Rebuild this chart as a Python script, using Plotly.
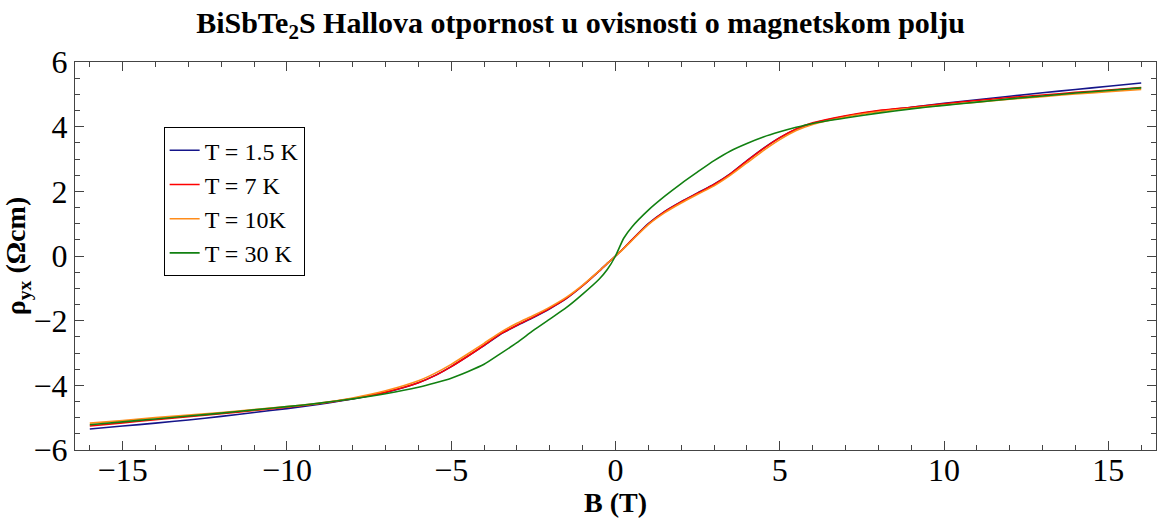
import plotly.graph_objects as go

B = [-16, -15, -14, -13, -12, -11, -10, -9, -8, -7, -6, -5.5, -5, -4.5, -4, -3.5, -3, -2.5, -2, -1.5, -1, -0.5, -0.25,
     0, 0.25, 0.5, 1, 1.5, 2, 2.5, 3, 3.5, 4, 4.5, 5, 5.5, 6, 7, 8, 9, 10, 11, 12, 13, 14, 15, 16]

rho_1p5K = [-5.35, -5.26, -5.17, -5.07, -4.96, -4.84, -4.72, -4.58, -4.42, -4.22, -3.92, -3.70, -3.42, -3.10, -2.77,
            -2.42, -2.15, -1.90, -1.63, -1.32, -0.92, -0.47, -0.23, 0,
            0.24, 0.50, 1.00, 1.38, 1.68, 1.95, 2.22, 2.55, 2.95, 3.33, 3.66, 3.92, 4.10, 4.32, 4.48, 4.60, 4.72,
            4.83, 4.94, 5.05, 5.15, 5.25, 5.35]
rho_7K = [-5.26, -5.16, -5.06, -4.97, -4.88, -4.78, -4.68, -4.56, -4.41, -4.21, -3.92, -3.70, -3.42, -3.10, -2.76,
          -2.41, -2.14, -1.89, -1.62, -1.31, -0.92, -0.47, -0.23, 0,
          0.24, 0.50, 0.99, 1.37, 1.67, 1.94, 2.21, 2.54, 2.94, 3.32, 3.66, 3.93, 4.12, 4.34, 4.50, 4.60, 4.71,
          4.81, 4.90, 4.98, 5.06, 5.13, 5.21]
rho_10K = [-5.17, -5.09, -5.00, -4.92, -4.84, -4.75, -4.66, -4.55, -4.39, -4.17, -3.86, -3.63, -3.35, -3.03, -2.70,
           -2.36, -2.08, -1.84, -1.58, -1.28, -0.90, -0.46, -0.23, 0,
           0.23, 0.48, 0.97, 1.34, 1.64, 1.91, 2.17, 2.50, 2.88, 3.26, 3.60, 3.88, 4.07, 4.30, 4.46, 4.57, 4.67,
           4.76, 4.85, 4.93, 5.01, 5.08, 5.15]
rho_30K = [-5.22, -5.13, -5.04, -4.95, -4.86, -4.76, -4.66, -4.55, -4.42, -4.26, -4.06, -3.93, -3.78, -3.58, -3.35,
           -3.02, -2.68, -2.30, -1.95, -1.60, -1.18, -0.72, -0.42, 0,
           0.55, 0.90, 1.42, 1.85, 2.24, 2.60, 2.95, 3.25, 3.48, 3.68, 3.84, 3.98, 4.10, 4.27, 4.42, 4.55, 4.66,
           4.76, 4.86, 4.95, 5.04, 5.12, 5.20]

series_names = ["T = 1.5 K", "T = 7 K", "T = 10K", "T = 30 K"]
series_values = [rho_1p5K, rho_7K, rho_10K, rho_30K]
series_colors = ["#15158a", "#ff0000", "#ff8c1a", "#118011"]

x_ticks = [-15, -10, -5, 0, 5, 10, 15]
y_ticks = [-6, -4, -2, 0, 2, 4, 6]

FONT = "Liberation Serif"

fig = go.Figure()
for name, vals, col in zip(series_names, series_values, series_colors):
    fig.add_trace(go.Scatter(x=B, y=vals, mode="lines", name=name,
                             line=dict(color=col, width=1.6, shape="spline", smoothing=0.6)))

axis_common = dict(
    showgrid=False, zeroline=False, showline=True, linecolor="#444", linewidth=1.2,
    mirror="ticks", ticks="inside", ticklen=9, tickwidth=1, tickcolor="#444",
    tickfont=dict(family=FONT, size=32, color="black"), automargin=False,
)


def lbl(v):
    return ("−" if v < 0 else "") + str(abs(v))


fig.update_layout(
    template="none",
    width=1161, height=522,
    margin=dict(l=75, r=5, t=62, b=72, autoexpand=False),
    paper_bgcolor="white", plot_bgcolor="white",
    title=dict(text="<b>BiSbTe<sub>2</sub>S Hallova otpornost u ovisnosti o magnetskom polju</b>",
               x=0.5, xref="container", xanchor="center",
               y=1 - 22 / 522, yref="container", yanchor="middle",
               font=dict(family=FONT, size=30, color="black")),
    xaxis=dict(range=[-16.45, 16.45], tickvals=x_ticks, ticktext=[lbl(v) for v in x_ticks],
               minor=dict(dtick=1, ticklen=5, ticks="inside", tickcolor="#444"),
               ticklabelstandoff=-9,
               title=dict(text="<b>B (T)</b>", font=dict(family=FONT, size=28, color="black"), standoff=0),
               **axis_common),
    yaxis=dict(range=[-6, 6], tickvals=y_ticks, ticktext=[lbl(v) for v in y_ticks],
               minor=dict(dtick=0.5, ticklen=5, ticks="inside", tickcolor="#444"),
               title=dict(text="<b>ρ<sub>yx</sub> (Ωcm)</b>", font=dict(family=FONT, size=28, color="black"), standoff=0),
               **axis_common),
    legend=dict(x=0.082, y=0.832, xanchor="left", yanchor="top",
                bordercolor="black", borderwidth=1, bgcolor="white",
                font=dict(family=FONT, size=24, color="black"),
                itemwidth=30, tracegroupgap=0),
    showlegend=True,
)

fig.write_html(
    "out.html",
    config={"displayModeBar": False},
    post_script=("document.body.style.margin='0';document.body.style.padding='0';"
                 "document.body.style.overflow='hidden';"
                 "Plotly.relayout('{plot_id}', {width: 1161, height: 522});"),
)
